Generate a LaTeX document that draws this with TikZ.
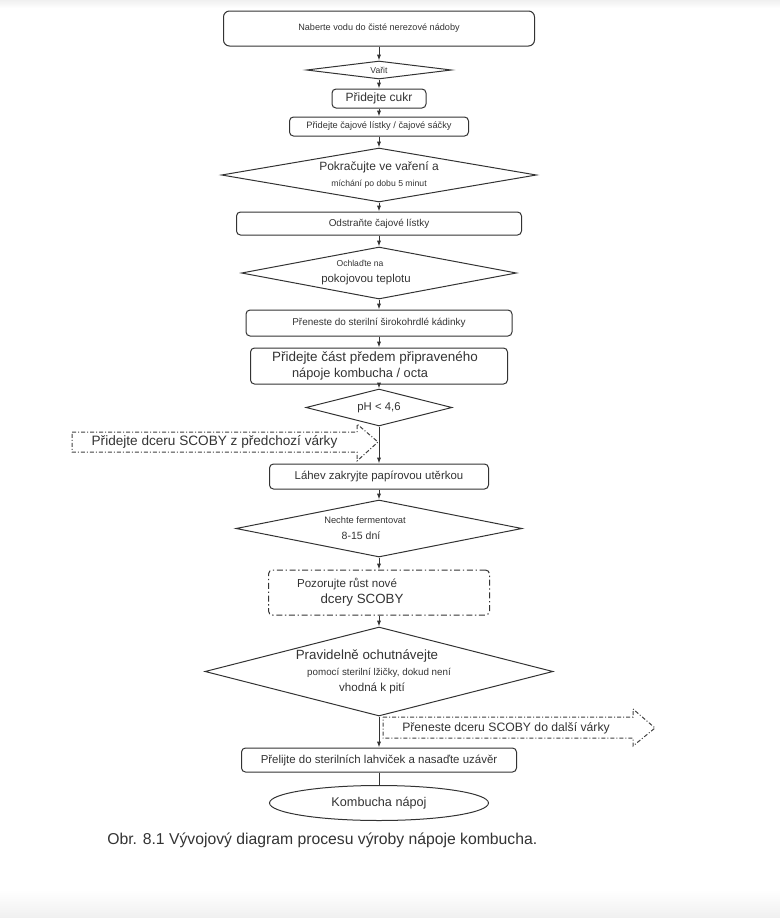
\documentclass[tikz,border=0pt]{standalone}
\usepackage{fontspec}
\setmainfont{Liberation Sans}
\usetikzlibrary{shapes.geometric,arrows.meta}
\newcommand{\pxu}{0.75pt}
\newcommand{\fs}[2]{\fontsize{#1}{#2}\selectfont}

\begin{document}
\begin{tikzpicture}
[x=0.75pt, y=-0.75pt, >={Latex[length=4.5pt,width=3.2pt]},
% STYLES
every node/.style={text=black!80, inner sep=0pt},
% The dims style sets the size of a shape, in pixels of the page
dims/.style 2 args={minimum width=#1*\pxu, minimum height=#2*\pxu},
% The stepbox style is used to draw the working steps
stepbox/.style={rectangle, rounded corners=3pt, draw=black!80, line width=0.75pt, align=center},
% The decision style is used to draw the diamonds
decision/.style={diamond, draw=black!80, line width=0.75pt, align=center},
% The scobyline style is used for the dash-dot outlines
scobyline/.style={draw=black!75, line width=0.75pt, dash pattern=on 3pt off 1.5pt on 0.75pt off 1.5pt},
flow/.style={draw=black!80, line width=0.75pt}]

% Page shading
\useasboundingbox (0,0) rectangle (780,918);
\shade[top color=black!6, bottom color=white] (0,0) rectangle (780,8);
\shade[top color=white, bottom color=black!6] (0,890) rectangle (780,918);

% Draw steps
\node [stepbox, dims={311}{35}, rounded corners=4.5pt] (water) at (379,28.5) {\fs{6.85pt}{8pt}Naberte vodu do čisté nerezové nádoby};
\node [decision, dims={145}{18}, aspect=8.06] (boil) at (379,70) {\fs{6.45pt}{8pt}Vařit};
\node [stepbox, dims={94}{19}] (sugar) at (379,98.5) {\fs{9pt}{10pt}Přidejte cukr};
\node [stepbox, dims={179}{19}] (tea) at (379,126.5) {\fs{6.95pt}{8pt}Přidejte čajové lístky / čajové sáčky};
\node [decision, dims={315}{54}, aspect=5.83] (stir) at (379,175) {\fs{9pt}{12pt}Pokračujte ve vaření a\\\fs{6.5pt}{12pt}míchání po dobu 5 minut};
\node [stepbox, dims={285}{23}] (remove) at (379,223.5) {\fs{7.45pt}{9pt}Odstraňte čajové lístky};
\node [decision, dims={275}{52}, aspect=5.29] (cool) at (379,273) {\fs{6.45pt}{14pt}Ochlaďte na\hspace*{28.5pt}\\\fs{8.55pt}{14pt}pokojovou teplotu\hspace*{19.5pt}};
\node [stepbox, dims={266}{26}] (beaker) at (379,323) {\fs{7.45pt}{9pt}Přeneste do sterilní širokohrdlé kádinky};
\node [stepbox, dims={257}{36}] (starter) at (379,366) {\fs{10.1pt}{12.75pt}Přidejte část předem připraveného\hspace*{6pt}\\\fs{9.6pt}{12.75pt}nápoje kombucha / octa\hspace*{28.5pt}};
\node [decision, dims={146}{37}, aspect=3.95] (ph) at (379,407.5) {\fs{8.5pt}{10pt}pH < 4,6};
\node [stepbox, dims={219}{25}] (cover) at (379,476.5) {\fs{8.55pt}{10pt}Láhev zakryjte papírovou utěrkou};
\node [decision, dims={286}{57}, aspect=5.02] (ferment) at (379,528.5) {\fs{7pt}{12pt}Nechte fermentovat\hspace*{21pt}\\\fs{7.9pt}{12pt}8-15 dní\hspace*{27pt}};
\node [stepbox, dims={221}{45}, dash pattern=on 4.5pt off 2pt on 1pt off 2pt] (observe) at (379,592.5) {\fs{8.7pt}{12pt}Pozorujte růst nové\hspace*{48pt}\\dcery SCOBY\hspace*{25.5pt}};
\node [decision, dims={348}{89}, aspect=3.91] (taste) at (379,671.5) {\fs{10pt}{12.4pt}Pravidelně ochutnávejte\hspace*{18pt}\\\fs{7.35pt}{12.4pt}pomocí sterilní lžičky, dokud není\hspace*{10.5pt}\\\fs{8.7pt}{12.4pt}vhodná k pití\hspace*{10.5pt}};
\node [stepbox, dims={275}{24}] (bottle) at (379,760) {\fs{8.6pt}{10pt}Přelijte do sterilních lahviček a nasaďte uzávěr};
\node [ellipse, draw=black!80, line width=0.75pt, dims={219}{35}] (drink) at (379,803) {\fs{9.5pt}{11pt}Kombucha nápoj};

% Side notes about the SCOBY
\node (scobyin) at (214.5,442) {\fs{10.2pt}{12pt}Přidejte dceru SCOBY z předchozí várky};
\draw [scobyline] (72,432) -- (357,432) -- (357,424) -- (378,442) -- (357,461) -- (357,452) -- (72,452) -- cycle;
\node (scobyout) at (506,728) {\fs{9.15pt}{11pt}Přeneste dceru SCOBY do další várky};
\draw [scobyline] (383,717) -- (633,717) -- (633,709) -- (655,728) -- (633,746) -- (633,738) -- (383,738) -- cycle;

% Draw arrows
\draw [flow, ->] (water) -- (boil);
\draw [flow, ->] (boil) -- (sugar);
\draw [flow, ->] (sugar) -- (tea);
\draw [flow, ->] (tea) -- (stir);
\draw [flow, ->] (stir) -- (remove);
\draw [flow, ->] (remove) -- (cool);
\draw [flow, ->] (cool) -- (beaker);
\draw [flow, ->] (beaker) -- (starter);
\draw [flow, ->] (starter) -- (ph);
\draw [flow, ->] (ph) -- (cover);
\draw [flow, ->] (cover) -- (ferment);
\draw [flow, ->] (ferment) -- (observe);
\draw [flow, ->] (observe) -- (taste);
\draw [flow, ->] (taste) -- (bottle);
\draw [flow] (bottle) -- (drink);

\node [anchor=west] (caption) at (107,840) {\fs{11.8pt}{14pt}Obr. 8.1 Vývojový diagram procesu výroby nápoje kombucha.};

\end{tikzpicture}
\end{document}
